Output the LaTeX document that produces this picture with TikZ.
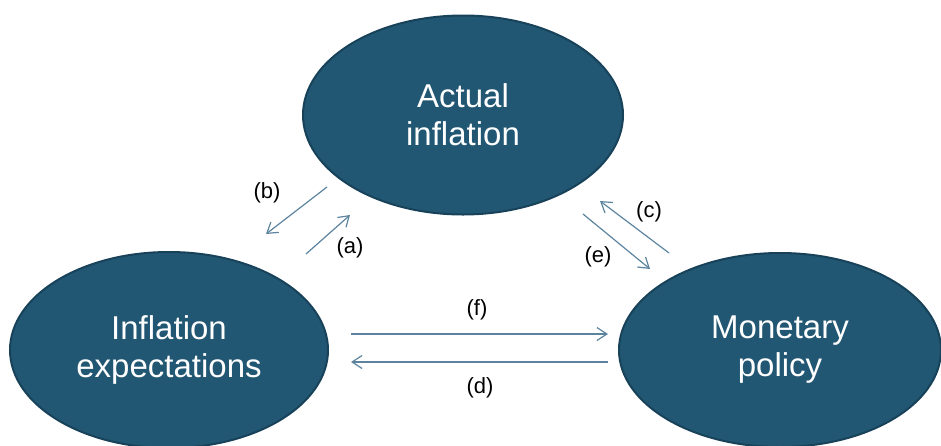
\documentclass[tikz,border=0pt]{standalone}
\usepackage{fontspec}
\setmainfont{Liberation Sans}
\usetikzlibrary{shapes.geometric, arrows.meta}
\definecolor{bubblefill}{RGB}{34,87,115}
\definecolor{bubbleedge}{RGB}{24,66,90}
\definecolor{linkcol}{RGB}{92,132,158}
\tikzset{
  bubble/.style={ellipse, fill=bubblefill, draw=bubbleedge, line width=2pt, inner sep=0pt,
    text=white, align=center, font=\fontsize{33}{38}\selectfont},
  link/.style={draw=linkcol, line width=1.2pt, -{Straight Barb[length=10pt,width=13pt]}},
  tag/.style={font=\fontsize{22}{26}\selectfont}
}

\begin{document}
\begin{tikzpicture}[x=1pt,y=-1pt]
\useasboundingbox (0,0) rectangle (941,445);
\clip (0,0) rectangle (941,445);
\node[bubble, minimum width=320pt, minimum height=199pt] (actual) at (463,115) {Actual\\inflation};
\node[bubble, minimum width=318pt, minimum height=196pt] (expect) at (169,350) {Inflation\\expectations};
\node[bubble, minimum width=322pt, minimum height=194pt] (policy) at (780,350) {Monetary\\policy};
\coordinate (b1) at (327,187);
\coordinate (b2) at (266,234);
\coordinate (a1) at (306,254);
\coordinate (a2) at (350,215);
\coordinate (c1) at (669,253);
\coordinate (c2) at (600,201);
\coordinate (e1) at (583,214);
\coordinate (e2) at (650,269);
\coordinate (f1) at (351,334);
\coordinate (f2) at (608,334);
\coordinate (d1) at (608,362);
\coordinate (d2) at (351,362);
\draw[link] (b1) to (b2);
\draw[link] (a1) to (a2);
\draw[link] (c1) to (c2);
\draw[link] (e1) to (e2);
\draw[link] (f1) to (f2);
\draw[link] (d1) to (d2);
\node[tag] (labb) at (267,193) {(b)};
\node[tag] (laba) at (350,248) {(a)};
\node[tag] (labc) at (649,212) {(c)};
\node[tag] (labe) at (598,257) {(e)};
\node[tag] (labf) at (477,310) {(f)};
\node[tag] (labd) at (480,388) {(d)};
\end{tikzpicture}
\end{document}
